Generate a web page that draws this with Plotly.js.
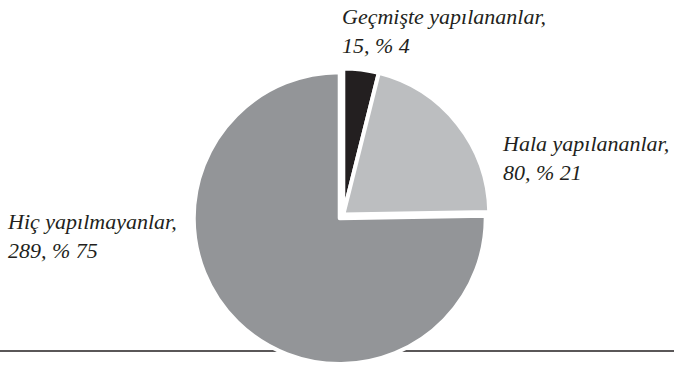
<!DOCTYPE html>
<html>
<head>
<meta charset="utf-8">
<script src="https://cdn.plot.ly/plotly-3.0.1.min.js"></script>
<style>html,body{margin:0;padding:0;background:#fff;}#chart{width:674px;height:373px;}</style>
</head>
<body>
<div id="chart"></div>
<script>
const categories = ["Geçmişte yapılananlar", "Hala yapılananlar", "Hiç yapılmayanlar"];
const values = [15, 80, 289];
const colors = ["#231f20", "#bcbec0", "#939598"];
const pulls = [0, 0, 0.035];

const total = values.reduce((a, b) => a + b, 0);
const labelText = categories.map((c, i) =>
  c + ",<br>" + values[i] + ", % " + Math.round(values[i] / total * 100));

// label anchor positions (paper coords)
const labelPos = [
  {x: 340 / 674, y: 1 - 31 / 373},
  {x: 500 / 674, y: 1 - 158 / 373},
  {x: 5 / 674, y: 1 - 236 / 373}
];

const FONT = "Liberation Serif";

const trace = {
  type: "pie",
  values: values,
  labels: categories,
  sort: false,
  direction: "clockwise",
  rotation: 0,
  pull: pulls,
  textinfo: "none",
  hoverinfo: "none",
  showlegend: false,
  marker: {colors: colors, line: {color: "#ffffff", width: 4}},
  domain: {x: [0.2852, 0.7335], y: [0.0198, 0.8300]}
};

const layout = {
  width: 674, height: 373,
  margin: {l: 0, r: 0, t: 0, b: 0},
  paper_bgcolor: "#ffffff",
  plot_bgcolor: "#ffffff",
  showlegend: false,
  font: {family: FONT, color: "#231f20", size: 22},
  shapes: [{
    type: "line", xref: "paper", yref: "paper", layer: "below",
    x0: 0, x1: 1, y0: 1 - 351 / 373, y1: 1 - 351 / 373,
    line: {color: "#231f20", width: 1.3}
  }],
  annotations: labelText.map((t, i) => ({
    text: "<i>" + t + "</i>", xref: "paper", yref: "paper",
    x: labelPos[i].x, y: labelPos[i].y,
    xanchor: "left", yanchor: "middle", align: "left",
    showarrow: false,
    font: {family: FONT, size: 22, color: "#231f20"}
  }))
};

Plotly.newPlot("chart", [trace], layout, {staticPlot: true, displayModeBar: false});
</script>
</body>
</html>
